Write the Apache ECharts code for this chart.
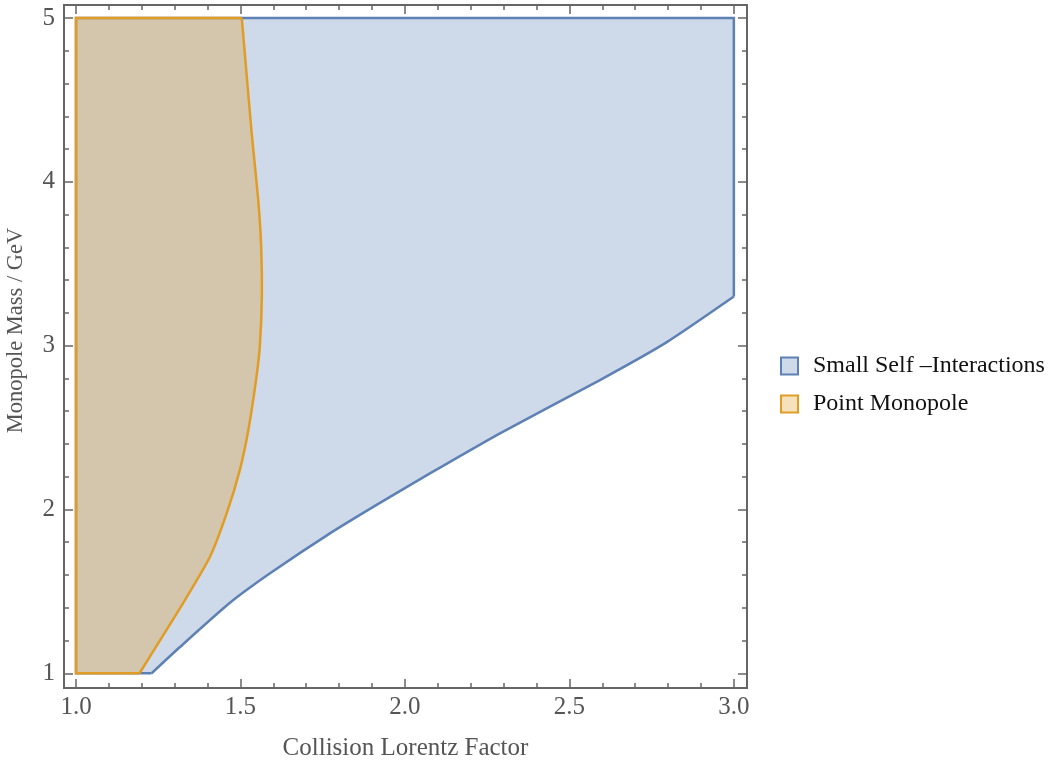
<!DOCTYPE html>
<html>
<head>
<meta charset="utf-8">
<script src="https://cdn.jsdelivr.net/npm/echarts@6/dist/echarts.min.js"></script>
<style>
  html, body { margin: 0; padding: 0; background: #fff; }
  #chart { width: 1059px; height: 773px; }
</style>
</head>
<body>
<div id="chart"></div>
<script>
// --- Datos ---
// Región azul "Small Self -Interactions": borde inferior curvo + esquinas
const blueCurveX = [1.23, 1.316, 1.468, 1.59, 1.772, 1.924, 2.076, 2.289, 2.593, 2.795, 3.0];
const blueCurveY = [1.0, 1.16, 1.43, 1.61, 1.854, 2.04, 2.22, 2.465, 2.79, 3.02, 3.3];
const blueCornerX = [3.0, 1.0, 1.0];
const blueCornerY = [5.0, 5.0, 1.0];

// Región naranja "Point Monopole": borde derecho curvo + esquinas
const orangeCurveX = [1.193, 1.255, 1.326, 1.407, 1.458, 1.498, 1.524, 1.548, 1.559, 1.565, 1.563, 1.554, 1.534, 1.504];
const orangeCurveY = [1.0, 1.2, 1.43, 1.71, 1.976, 2.24, 2.485, 2.8, 3.0, 3.3, 3.6, 3.89, 4.3, 5.0];
const orangeCornerX = [1.0, 1.0];
const orangeCornerY = [5.0, 1.0];

// Marcas de los ejes
const xMajor = [1.0, 1.5, 2.0, 2.5, 3.0];
const xMinor = [1.1, 1.2, 1.3, 1.4, 1.6, 1.7, 1.8, 1.9, 2.1, 2.2, 2.3, 2.4, 2.6, 2.7, 2.8, 2.9];
const yMajor = [1, 2, 3, 4, 5];
const yMinor = [1.2, 1.4, 1.6, 1.8, 2.2, 2.4, 2.6, 2.8, 3.2, 3.4, 3.6, 3.8, 4.2, 4.4, 4.6, 4.8];

const seriesNames = ['Small Self \u2013Interactions', 'Point Monopole'];

// --- Colores ---
const axisColor = '#666666';
const textColor = '#555555';
const blueStroke = '#5e81b5';
const blueFill = 'rgba(94,129,181,0.3)';
const orangeStroke = '#e19c24';
const orangeFill = 'rgba(225,156,36,0.3)';
const serif = '"Liberation Serif", "DejaVu Serif", serif';
const fontSize = 25;

const X_MIN = 0.9635, X_MAX = 3.04;
const Y_MIN = 0.91, Y_MAX = 5.08;

// Ejes: uno para marcas mayores (con etiquetas), otro para menores
function makeAxis(dim, position, ticks, len, withLabel) {
    const axis = {
        type: 'value',
        position: position,
        min: dim === 'x' ? X_MIN : Y_MIN,
        max: dim === 'x' ? X_MAX : Y_MAX,
        splitLine: { show: false },
        axisLine: { show: true, lineStyle: { color: axisColor, width: 2 } },
        axisTick: {
            show: true,
            inside: true,
            length: len,
            customValues: ticks,
            lineStyle: { color: axisColor, width: 1.5 }
        },
        axisLabel: { show: false }
    };
    if (withLabel) {
        axis.axisLabel = {
            show: true,
            customValues: ticks,
            color: textColor,
            fontFamily: serif,
            fontSize: fontSize,
            margin: dim === 'x' ? 7 : 9,
            formatter: dim === 'x' ? (v => v.toFixed(1)) : (v => String(Math.round(v)))
        };
    }
    return axis;
}

const xAxes = [
    makeAxis('x', 'bottom', xMajor, 9, true),
    makeAxis('x', 'bottom', xMinor, 5, false),
    makeAxis('x', 'top', xMajor, 9, false),
    makeAxis('x', 'top', xMinor, 5, false)
];
xAxes[0].name = 'Collision Lorentz Factor';
xAxes[0].nameLocation = 'middle';
xAxes[0].nameGap = 48;
xAxes[0].nameTextStyle = { color: textColor, fontFamily: serif, fontSize: fontSize };

const yAxes = [
    makeAxis('y', 'left', yMajor, 9, true),
    makeAxis('y', 'left', yMinor, 5, false),
    makeAxis('y', 'right', yMajor, 9, false),
    makeAxis('y', 'right', yMinor, 5, false)
];
yAxes[0].name = 'Monopole Mass / GeV';
yAxes[0].nameLocation = 'middle';
yAxes[0].nameGap = 36;
yAxes[0].nameTextStyle = { color: textColor, fontFamily: serif, fontSize: 22.5, padding: [0, 0, 0, 32] };

// Región: relleno poligonal + contorno (tramo recto y tramo curvo suavizado)
function regionRenderer(cx, cy, kx, ky, fill, stroke) {
    return function (params, api) {
        if (params.dataIndex !== 0) return null;
        const curve = cx.map((x, i) => api.coord([x, cy[i]]));
        const corners = kx.map((x, i) => api.coord([x, ky[i]]));
        const straight = [curve[curve.length - 1]].concat(corners, [curve[0]]);
        return {
            type: 'group',
            children: [
                { type: 'polygon', shape: { points: curve.concat(corners) }, style: { fill: fill } },
                { type: 'polyline', shape: { points: straight }, style: { fill: null, stroke: stroke, lineWidth: 2.5, lineJoin: 'miter' } },
                { type: 'polyline', shape: { points: curve, smooth: 0.2 }, style: { fill: null, stroke: stroke, lineWidth: 2.5 } }
            ]
        };
    };
}

const chart = echarts.init(document.getElementById('chart'));
chart.setOption({
    animation: false,
    backgroundColor: '#ffffff',
    grid: { left: 64, top: 5, width: 683, height: 683, containLabel: false, outerBoundsMode: 'none' },
    xAxis: xAxes,
    yAxis: yAxes,
    legend: {
        orient: 'vertical',
        left: 780,
        top: 354,
        padding: 0,
        itemWidth: 17,
        itemHeight: 17,
        itemGap: 14,
        textStyle: { color: '#111111', fontFamily: serif, fontSize: 24, padding: [0, 0, 0, 10] },
        data: [
            { name: seriesNames[0], icon: 'rect', itemStyle: { color: blueFill, borderColor: blueStroke, borderWidth: 2 } },
            { name: seriesNames[1], icon: 'rect', itemStyle: { color: orangeFill, borderColor: orangeStroke, borderWidth: 2 } }
        ]
    },
    series: [
        {
            name: seriesNames[0],
            type: 'custom',
            xAxisIndex: 0,
            yAxisIndex: 0,
            itemStyle: { color: blueFill, borderColor: blueStroke },
            data: blueCurveX.map((x, i) => [x, blueCurveY[i]]),
            renderItem: regionRenderer(blueCurveX, blueCurveY, blueCornerX, blueCornerY, blueFill, blueStroke)
        },
        {
            name: seriesNames[1],
            type: 'custom',
            xAxisIndex: 0,
            yAxisIndex: 0,
            itemStyle: { color: orangeFill, borderColor: orangeStroke },
            data: orangeCurveX.map((x, i) => [x, orangeCurveY[i]]),
            renderItem: regionRenderer(orangeCurveX, orangeCurveY, orangeCornerX, orangeCornerY, orangeFill, orangeStroke)
        }
    ]
});
</script>
</body>
</html>
